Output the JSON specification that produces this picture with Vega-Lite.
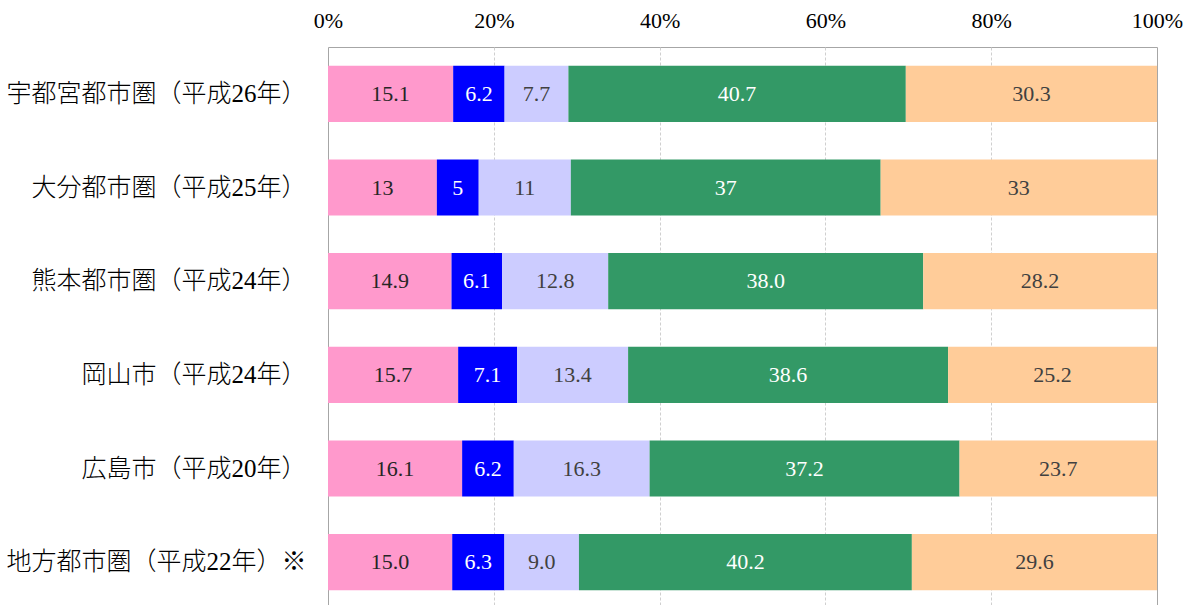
{
  "$schema": "https://vega.github.io/schema/vega-lite/v6.json",
  "width": 829,
  "height": 562,
  "autosize": "none",
  "padding": {"left": 328, "top": 47, "right": 31, "bottom": 0},
  "background": "white",
  "config": {
    "view": {"stroke": "#a6a6a6", "strokeWidth": 1},
    "font": "Liberation Serif"
  },
  "data": {
    "values": [
      {"area": "宇都宮都市圏（平成26年）", "cat": "系列1", "value": 15.1, "label": "15.1"},
      {"area": "宇都宮都市圏（平成26年）", "cat": "系列2", "value": 6.2, "label": "6.2"},
      {"area": "宇都宮都市圏（平成26年）", "cat": "系列3", "value": 7.7, "label": "7.7"},
      {"area": "宇都宮都市圏（平成26年）", "cat": "系列4", "value": 40.7, "label": "40.7"},
      {"area": "宇都宮都市圏（平成26年）", "cat": "系列5", "value": 30.3, "label": "30.3"},
      {"area": "大分都市圏（平成25年）", "cat": "系列1", "value": 13, "label": "13"},
      {"area": "大分都市圏（平成25年）", "cat": "系列2", "value": 5, "label": "5"},
      {"area": "大分都市圏（平成25年）", "cat": "系列3", "value": 11, "label": "11"},
      {"area": "大分都市圏（平成25年）", "cat": "系列4", "value": 37, "label": "37"},
      {"area": "大分都市圏（平成25年）", "cat": "系列5", "value": 33, "label": "33"},
      {"area": "熊本都市圏（平成24年）", "cat": "系列1", "value": 14.9, "label": "14.9"},
      {"area": "熊本都市圏（平成24年）", "cat": "系列2", "value": 6.1, "label": "6.1"},
      {"area": "熊本都市圏（平成24年）", "cat": "系列3", "value": 12.8, "label": "12.8"},
      {"area": "熊本都市圏（平成24年）", "cat": "系列4", "value": 38.0, "label": "38.0"},
      {"area": "熊本都市圏（平成24年）", "cat": "系列5", "value": 28.2, "label": "28.2"},
      {"area": "岡山市（平成24年）", "cat": "系列1", "value": 15.7, "label": "15.7"},
      {"area": "岡山市（平成24年）", "cat": "系列2", "value": 7.1, "label": "7.1"},
      {"area": "岡山市（平成24年）", "cat": "系列3", "value": 13.4, "label": "13.4"},
      {"area": "岡山市（平成24年）", "cat": "系列4", "value": 38.6, "label": "38.6"},
      {"area": "岡山市（平成24年）", "cat": "系列5", "value": 25.2, "label": "25.2"},
      {"area": "広島市（平成20年）", "cat": "系列1", "value": 16.1, "label": "16.1"},
      {"area": "広島市（平成20年）", "cat": "系列2", "value": 6.2, "label": "6.2"},
      {"area": "広島市（平成20年）", "cat": "系列3", "value": 16.3, "label": "16.3"},
      {"area": "広島市（平成20年）", "cat": "系列4", "value": 37.2, "label": "37.2"},
      {"area": "広島市（平成20年）", "cat": "系列5", "value": 23.7, "label": "23.7"},
      {"area": "地方都市圏（平成22年）※", "cat": "系列1", "value": 15.0, "label": "15.0"},
      {"area": "地方都市圏（平成22年）※", "cat": "系列2", "value": 6.3, "label": "6.3"},
      {"area": "地方都市圏（平成22年）※", "cat": "系列3", "value": 9.0, "label": "9.0"},
      {"area": "地方都市圏（平成22年）※", "cat": "系列4", "value": 40.2, "label": "40.2"},
      {"area": "地方都市圏（平成22年）※", "cat": "系列5", "value": 29.6, "label": "29.6"}
    ]
  },
  "encoding": {
    "y": {
      "field": "area",
      "type": "nominal",
      "sort": null,
      "scale": {"paddingInner": 0.4, "paddingOuter": 0.2},
      "axis": {
        "title": null,
        "ticks": false,
        "domain": false,
        "labelFont": "Liberation Serif, Noto Sans CJK JP",
        "labelFontSize": 25,
        "labelFontWeight": 300,
        "labelColor": "#000000",
        "labelPadding": 22,
        "labelLimit": 400
      }
    }
  },
  "layer": [
    {
      "mark": {"type": "bar"},
      "encoding": {
        "x": {
          "field": "value",
          "type": "quantitative",
          "stack": "normalize",
          "scale": {"domain": [0, 1], "nice": false},
          "axis": {
            "orient": "top",
            "title": null,
            "format": ".0%",
            "values": [0, 0.2, 0.4, 0.6, 0.8, 1],
            "ticks": false,
            "domain": false,
            "labelFlush": false,
            "labelFont": "Liberation Serif",
            "labelFontSize": 22,
            "labelColor": "#000000",
            "labelPadding": 15,
            "grid": true,
            "gridColor": {"condition": {"test": "datum.value == 0 || datum.value == 1", "value": "transparent"}, "value": "#cfcfcf"},
            "gridDash": [3, 2],
            "gridWidth": 1
          }
        },
        "color": {
          "field": "cat",
          "type": "nominal",
          "scale": {
            "domain": ["系列1", "系列2", "系列3", "系列4", "系列5"],
            "range": ["#FF99CC", "#0000FF", "#CCCCFF", "#339966", "#FFCC99"]
          },
          "legend": null
        }
      }
    },
    {
      "mark": {"type": "text", "fontSize": 22, "font": "Liberation Serif", "baseline": "middle", "align": "center"},
      "encoding": {
        "x": {"field": "value", "type": "quantitative", "stack": "normalize", "bandPosition": 0.5},
        "text": {"field": "label"},
        "color": {
          "field": "cat",
          "type": "nominal",
          "scale": {
            "domain": ["系列1", "系列2", "系列3", "系列4", "系列5"],
            "range": ["#262626", "#ffffff", "#404040", "#ffffff", "#404040"]
          },
          "legend": null
        }
      }
    }
  ],
  "resolve": {"scale": {"color": "independent"}}
}
